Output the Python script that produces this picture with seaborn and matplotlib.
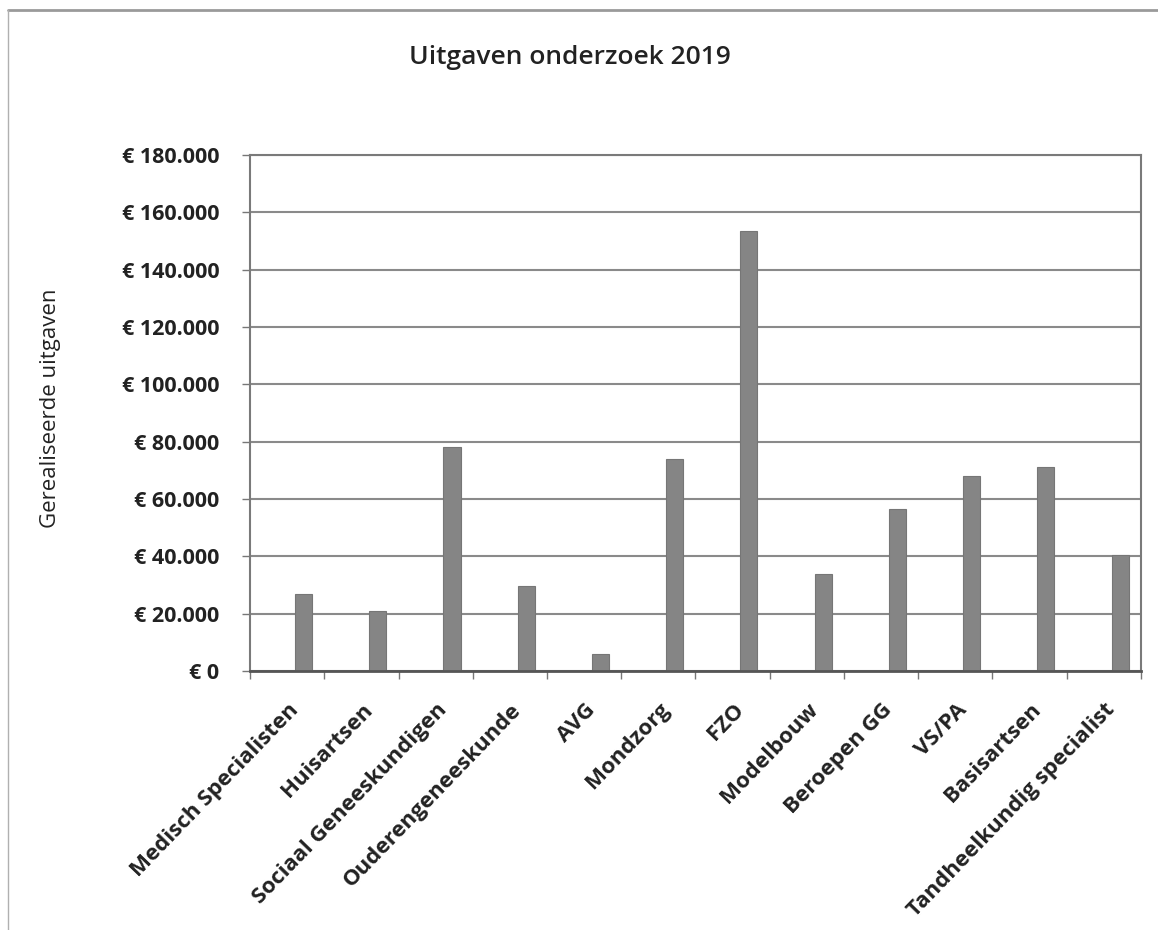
import matplotlib
matplotlib.use("Agg")
import matplotlib.pyplot as plt
import matplotlib.ticker as mticker
from matplotlib.lines import Line2D
import seaborn as sns
import pandas as pd

categories = ["Medisch Specialisten", "Huisartsen", "Sociaal Geneeskundigen",
              "Ouderengeneeskunde", "AVG", "Mondzorg", "FZO", "Modelbouw",
              "Beroepen GG", "VS/PA", "Basisartsen", "Tandheelkundig specialist"]
values = [27000, 21000, 78000, 29500, 6000, 73800, 153500, 33700,
          56400, 68000, 71300, 40500]
yticks = [0, 20000, 40000, 60000, 80000, 100000, 120000, 140000, 160000, 180000]

title = "Uitgaven onderzoek 2019"
ylabel = "Gerealiseerde uitgaven"

sns.set_theme(style="white")
plt.rcParams['font.family'] = ['Open Sans', 'DejaVu Sans']

fig = plt.figure(figsize=(11.58, 9.3), dpi=100)
ax = fig.add_axes([0.2159, 0.2785, 0.7694, 0.5548])

df = pd.DataFrame({"cat": categories, "val": values})
sns.barplot(data=df, x="cat", y="val", color="#858585", width=0.23,
            saturation=1, ax=ax, edgecolor="#767676", linewidth=0.8)
for p in ax.patches:
    p.set_x(p.get_x() + 0.22)

ax.set_xlim(-0.5, len(categories) - 0.5)
ax.set_ylim(0, 180000)
ax.set_yticks(yticks)
ax.yaxis.set_major_formatter(mticker.FuncFormatter(
    lambda v, _: "€ " + f"{int(v):,}".replace(",", ".")))
ax.grid(axis="y", color="#8a8a8a", linewidth=1.5)
ax.set_axisbelow(True)

for s in ax.spines.values():
    s.set_color("#7a7a7a")
    s.set_linewidth(1.5)
ax.spines["bottom"].set_color("#555555")
ax.spines["bottom"].set_linewidth(2)

# category tick marks between categories
ax.set_xticks([i - 0.5 for i in range(len(categories) + 1)], minor=True)
ax.tick_params(axis="x", which="minor", length=6, width=1, color="#777777",
               direction="out", bottom=True)
ax.tick_params(axis="x", which="major", length=0, pad=4)
ax.tick_params(axis="y", length=6, width=1, color="#777777", direction="out",
               left=True, labelsize=15.5, pad=16)
ax.set_xticks(range(len(categories)))
ax.set_xticklabels(categories, rotation=46, ha="right", va="center",
                   rotation_mode="anchor", fontsize=16, fontweight="bold",
                   color="#222222")
for lbl in ax.get_xticklabels():
    lbl.set_transform(lbl.get_transform() +
                      matplotlib.transforms.ScaledTranslation(0.08, -0.30, fig.dpi_scale_trans))
for lbl in ax.get_yticklabels():
    lbl.set_fontweight("bold")
    lbl.set_color("#222222")

ax.set_xlabel("")
ax.set_ylabel(ylabel, fontsize=16, color="#222222", fontweight="medium")
ax.yaxis.set_label_coords(-0.212, 0.51)
fig.text(0.492, 0.938, title, ha="center", va="center", fontsize=19,
         color="#222222", fontweight="semibold")

# outer chart frame
fig.add_artist(Line2D([8 / 1158, 1], [1 - 10 / 930, 1 - 10 / 930],
                      transform=fig.transFigure, color="#9a9a9a", linewidth=2))
fig.add_artist(Line2D([8 / 1158, 8 / 1158], [0, 1 - 10 / 930],
                      transform=fig.transFigure, color="#b0b0b0", linewidth=1))

fig.savefig("out.png", dpi=100)
